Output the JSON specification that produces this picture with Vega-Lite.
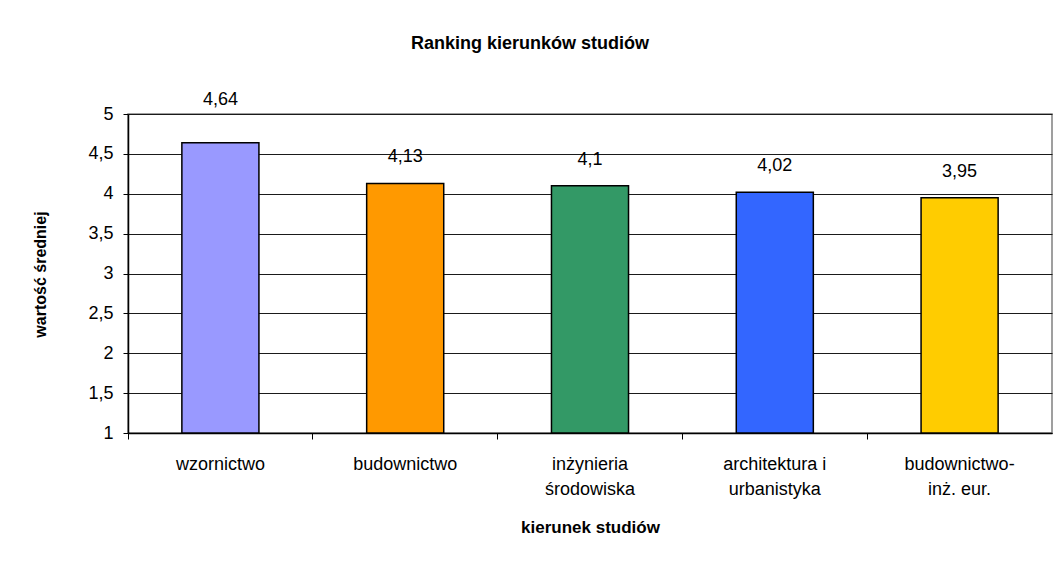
{
  "$schema": "https://vega.github.io/schema/vega-lite/v6.json",
  "width": 924,
  "height": 319,
  "autosize": {"type": "none"},
  "padding": {"left": 128, "top": 114, "right": 7, "bottom": 132},
  "background": "white",
  "config": {
    "locale": {"number": {"decimal": ",", "thousands": " ", "grouping": [3], "currency": ["", " zł"]}},
    "font": "Liberation Sans",
    "view": {"stroke": "#808080", "strokeWidth": 1.5}
  },
  "title": {
    "text": "Ranking kierunków studiów",
    "fontSize": 18,
    "fontWeight": "bold",
    "font": "Liberation Sans",
    "color": "#000000",
    "anchor": "middle",
    "frame": "group",
    "dx": -60,
    "offset": 38
  },
  "data": {
    "values": [
      {"kierunek": "wzornictwo", "srednia": 4.64},
      {"kierunek": "budownictwo", "srednia": 4.13},
      {"kierunek": "inżynieria|środowiska", "srednia": 4.1},
      {"kierunek": "architektura i|urbanistyka", "srednia": 4.02},
      {"kierunek": "budownictwo-|inż. eur.", "srednia": 3.95}
    ]
  },
  "encoding": {
    "x": {
      "field": "kierunek",
      "type": "nominal",
      "sort": null,
      "scale": {"paddingInner": 0, "paddingOuter": 0},
      "axis": {
        "title": "kierunek studiów",
        "titleFont": "Liberation Sans",
        "titleFontSize": 17,
        "titleFontWeight": "bold",
        "titleColor": "#000000",
        "titleX": 462,
        "titleY": 86,
        "labelAngle": 0,
        "labelExpr": "split(datum.value, '|')",
        "labelFontSize": 18,
        "labelColor": "#000000",
        "labelLineHeight": 25,
        "labelPadding": 16,
        "labelBaseline": "top",
        "bandPosition": 0,
        "tickSize": 6,
        "tickColor": "#000000",
        "domainColor": "#000000",
        "domainWidth": 1.5,
        "grid": false
      }
    },
    "y": {
      "field": "srednia",
      "type": "quantitative",
      "scale": {"domain": [1, 5], "nice": false, "zero": false},
      "axis": {
        "title": "wartość średniej",
        "titleFont": "Liberation Sans",
        "titleFontSize": 16,
        "titleFontWeight": "bold",
        "titleColor": "#000000",
        "titleX": -80,
        "titleY": 160,
        "values": [1, 1.5, 2, 2.5, 3, 3.5, 4, 4.5, 5],
        "format": "~g",
        "labelFontSize": 18,
        "labelColor": "#000000",
        "labelPadding": 10,
        "tickSize": 5,
        "tickColor": "#000000",
        "domainColor": "#000000",
        "domainWidth": 1.5,
        "grid": true,
        "gridColor": "#1a1a1a",
        "gridWidth": 1
      }
    }
  },
  "layer": [
    {
      "mark": {"type": "bar", "width": {"band": 0.417}, "stroke": "#000000", "strokeWidth": 1.5},
      "encoding": {
        "y2": {"datum": 1},
        "color": {
          "field": "kierunek",
          "type": "nominal",
          "sort": null,
          "legend": null,
          "scale": {
            "domain": ["wzornictwo", "budownictwo", "inżynieria|środowiska", "architektura i|urbanistyka", "budownictwo-|inż. eur."],
            "range": ["#9999FF", "#FF9900", "#339966", "#3366FF", "#FFCC00"]
          }
        }
      }
    },
    {
      "transform": [{"filter": "datum.srednia < 4.5"}],
      "mark": {"type": "text", "fontSize": 18, "baseline": "middle", "dy": -26, "color": "#000000"},
      "encoding": {
        "text": {"field": "srednia", "type": "quantitative", "format": "~g"}
      }
    },
    {
      "transform": [{"filter": "datum.srednia >= 4.5"}],
      "mark": {"type": "text", "fontSize": 18, "baseline": "middle", "dy": -43, "color": "#000000"},
      "encoding": {
        "text": {"field": "srednia", "type": "quantitative", "format": "~g"}
      }
    }
  ]
}
